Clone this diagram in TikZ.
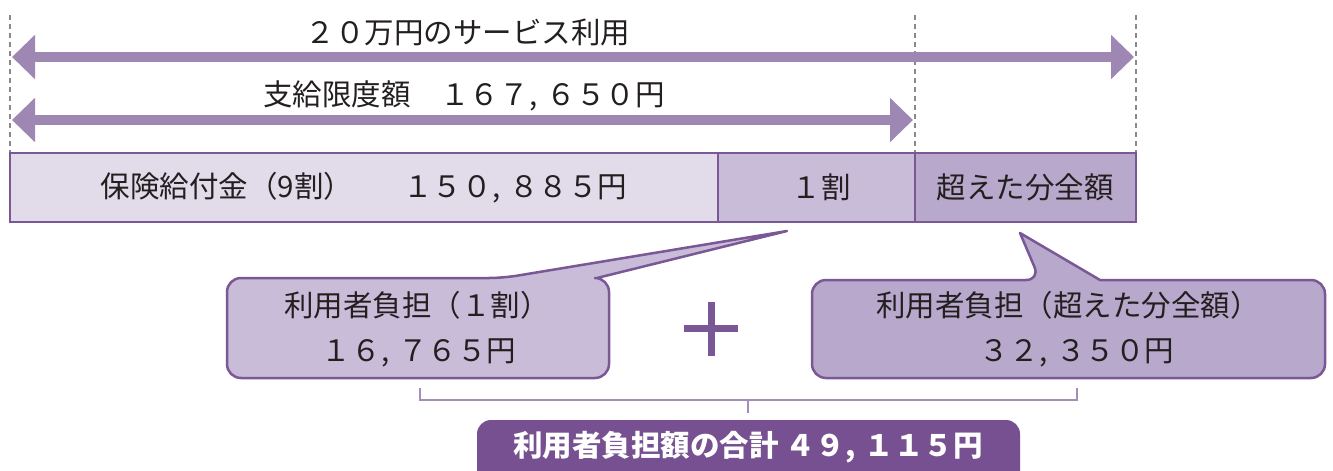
\documentclass[tikz,border=0pt]{standalone}
\usepackage{fontspec}
\setmainfont{Noto Sans CJK JP}
\usetikzlibrary{arrows.meta}
\definecolor{arrowc}{HTML}{9E88B3}
\definecolor{dashc}{HTML}{8A8A8A}
\definecolor{borderc}{HTML}{7A5896}
\definecolor{fillA}{HTML}{E1DBEA}
\definecolor{fillB}{HTML}{C9BCD8}
\definecolor{fillC}{HTML}{B8A8CB}
\definecolor{brack}{HTML}{A38EB8}
\definecolor{totalc}{HTML}{765090}
\definecolor{txt}{HTML}{231F20}
\newcommand{\zc}{\kern0.02em,\kern0.3em}
\tikzset{
  guide/.style={draw=dashc, line width=1.2pt, dash pattern=on 5pt off 4pt},
  dblarrow/.style={draw=arrowc, line width=10pt, {Triangle[width=43pt,length=23pt]}-{Triangle[width=43pt,length=23pt]}},
  barbox/.style={draw=borderc, line width=2.5pt, minimum height=69pt, inner sep=0pt},
  label/.style={text=txt, font=\fontsize{29.5}{32}\selectfont, inner sep=0pt},
  callout/.style={draw=borderc, line width=2.5pt, line join=round},
  plusbar/.style={draw=borderc, line width=7pt},
}
\begin{document}
\begin{tikzpicture}[x=1pt,y=-1pt]
\useasboundingbox (0,0) rectangle (1333,471);
% guides
\coordinate (gL0) at (10,15); \coordinate (gL1) at (10,153);
\coordinate (gM0) at (915,15); \coordinate (gM1) at (915,153);
\coordinate (gR0) at (1136,15); \coordinate (gR1) at (1136,153);
\draw[guide] (gL0) -- (gL1);
\draw[guide] (gM0) -- (gM1);
\draw[guide] (gR0) -- (gR1);
% arrows
\coordinate (a1L) at (12,57); \coordinate (a1R) at (1134,57);
\coordinate (a2L) at (12,120); \coordinate (a2R) at (913,120);
\draw[dblarrow] (a1L) -- (a1R);
\draw[dblarrow] (a2L) -- (a2R);
\node[label] (t1) at (468,32) {２０万円のサービス利用};
\node[label] (t2) at (464,96) {支給限度額　１６７\zc ６５０円};
% bar
\node[barbox, fill=fillA, minimum width=708pt] (b1) at (364,187.5) {};
\node[barbox, fill=fillB, minimum width=197pt] (b2) at (816.5,187.5) {};
\node[barbox, fill=fillC, minimum width=221pt] (b3) at (1025.5,187.5) {};
\node[label] (b1t) at (364,187.5) {保険給付金（9割）\hspace{1.7em}１５０\zc ８８５円};
\node[label] (b2t) at (821,187.5) {１割};
\node[label] (b3t) at (1025,187.5) {超えた分全額};
% callout 1
\fill[fillB] (400,378) [rounded corners=14pt] -- (227,378) -- (227,278) -- (503,278) [sharp corners] -- (787,231) -- (597,278) [rounded corners=14pt] -- (609,278) -- (609,378) -- cycle;
\draw[callout] (400,378) [rounded corners=14pt] -- (227,378) -- (227,278) -- (503,278) [sharp corners] -- (787,231) -- (597,278) [rounded corners=14pt] -- (609,278) -- (609,378) -- cycle;
\node[label] (c1a) at (417,305) {利用者負担（１割）};
\node[label] (c1b) at (419,353) {１６\zc ７６５円};
% plus
\coordinate (pl) at (684,328.5); \coordinate (pr) at (738,328.5);
\coordinate (pt) at (711.5,302); \coordinate (pb) at (711.5,356);
\draw[plusbar] (pl) -- (pr);
\draw[plusbar] (pt) -- (pb);
% callout 2
\fill[fillC] (1000,378) [rounded corners=14pt] -- (812,378) -- (812,280) -- (1040,280) [sharp corners] -- (1020,233) -- (1100,280) [rounded corners=14pt] -- (1325,280) -- (1325,378) -- cycle;
\draw[callout] (1000,378) [rounded corners=14pt] -- (812,378) -- (812,280) -- (1040,280) [sharp corners] -- (1020,233) -- (1100,280) [rounded corners=14pt] -- (1325,280) -- (1325,378) -- cycle;
\node[label] (c2a) at (1068,305) {利用者負担（超えた分全額）};
\node[label] (c2b) at (1077,353) {３２\zc ３５０円};
% bracket
\coordinate (brL) at (420,388); \coordinate (brR) at (1077,388);
\coordinate (brM) at (748,400); \coordinate (brB) at (748,413);
\draw[brack, line width=2pt] (brL) |- (brM) -| (brR);
\draw[brack, line width=2pt] (brM) -- (brB);
% total
\fill[totalc, rounded corners=14pt] (477,500) -- (477,420) -- (1020,420) -- (1020,500) -- cycle;
\node[text=white, font=\fontsize{29.5}{32}\selectfont\bfseries, inner sep=0pt] (tot) at (748,447) {利用者負担額の合計 ４９\zc １１５円};
\end{tikzpicture}
\end{document}
